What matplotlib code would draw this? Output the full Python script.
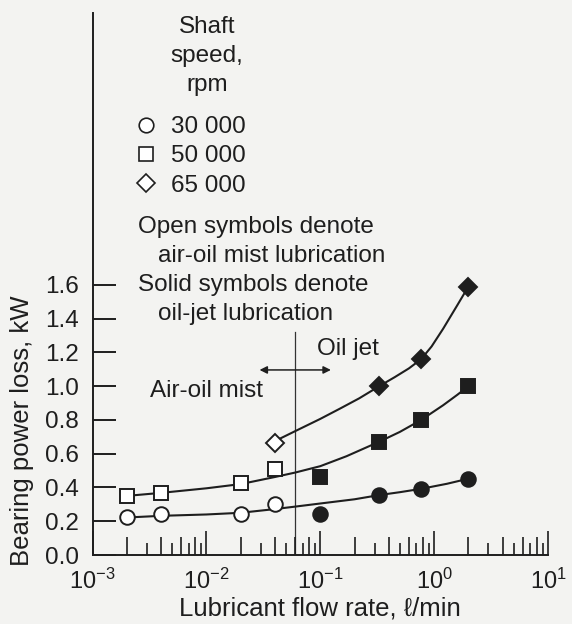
import numpy as np
import matplotlib
matplotlib.use("Agg")
import matplotlib.pyplot as plt
from matplotlib.lines import Line2D
from matplotlib.ticker import FixedLocator, NullFormatter

plt.rcParams['font.family'] = ['Liberation Sans', 'DejaVu Sans']
plt.rcParams['mathtext.fontset'] = 'custom'
plt.rcParams['mathtext.rm'] = 'Liberation Sans'
plt.rcParams['mathtext.it'] = 'Liberation Sans:italic'
plt.rcParams['mathtext.sf'] = 'Liberation Sans'

# --- data (flow in l/min, power loss in kW) ---
# open symbols: air-oil mist
mist_flow_30k = [0.002, 0.004, 0.02, 0.04]
mist_loss_30k = [0.225, 0.24, 0.24, 0.30]
mist_flow_50k = [0.002, 0.004, 0.02, 0.04]
mist_loss_50k = [0.35, 0.37, 0.425, 0.51]
mist_flow_65k = [0.04]
mist_loss_65k = [0.665]

# solid symbols: oil jet
jet_flow_30k = [0.1, 0.33, 0.77, 2.0]
jet_loss_30k = [0.245, 0.355, 0.39, 0.45]
jet_flow_50k = [0.1, 0.33, 0.77, 2.0]
jet_loss_50k = [0.46, 0.67, 0.80, 1.0]
jet_flow_65k = [0.33, 0.77, 2.0]
jet_loss_65k = [1.0, 1.16, 1.59]

# fitted curves
fit_flow_30k = [0.002, 0.004, 0.01, 0.02, 0.04, 0.07, 0.1, 0.2, 0.33, 0.5, 0.77, 1.3, 2.0]
fit_loss_30k = [0.222, 0.232, 0.24, 0.25, 0.272, 0.292, 0.305, 0.33, 0.355, 0.372, 0.392, 0.422, 0.452]
fit_flow_50k = [0.002, 0.004, 0.01, 0.02, 0.04, 0.06, 0.1, 0.17, 0.33, 0.5, 0.77, 1.2, 1.6, 2.0]
fit_loss_50k = [0.35, 0.368, 0.395, 0.42, 0.462, 0.488, 0.526, 0.585, 0.671, 0.729, 0.80, 0.887, 0.949, 1.0]
fit_flow_65k = [0.043, 0.06, 0.1, 0.15, 0.22, 0.33, 0.45, 0.6, 0.77, 0.95, 1.2, 1.6, 2.0]
fit_loss_65k = [0.685, 0.733, 0.806, 0.868, 0.928, 1.0, 1.053, 1.105, 1.16, 1.235, 1.34, 1.48, 1.59]

speeds = ['30 000', '50 000', '65 000']
markers = ['o', 's', 'D']
msizes = [10.5, 10.5, 9.0]

regime_split = 0.0595  # l/min, boundary between mist and jet
regime_top = 1.32

ink = '#1e1e1e'
bg = '#f3f3f1'
FS = 17.5

W, H = 572, 624


def fx(px):
    return px / W


def fy(py):
    return 1 - py / H


fig = plt.figure(figsize=(W / 100, H / 100), dpi=100, facecolor=bg)
ax = fig.add_axes([fx(92.5), fy(555), 455.5 / W, 542 / H])
ax.set_facecolor(bg)
ax.set_xscale('log')
ax.set_xlim(1e-3, 1e1)
ax.set_ylim(0, 3.21)

for s in ['top', 'right']:
    ax.spines[s].set_visible(False)
for s in ['left', 'bottom']:
    ax.spines[s].set_linewidth(1.4)
    ax.spines[s].set_color(ink)

# curves
for fxs, fys in [(fit_flow_30k, fit_loss_30k), (fit_flow_50k, fit_loss_50k),
                 (fit_flow_65k, fit_loss_65k)]:
    ax.plot(fxs, fys, color=ink, lw=1.5, zorder=2, solid_joinstyle='round')

# points
mist = [(mist_flow_30k, mist_loss_30k), (mist_flow_50k, mist_loss_50k),
        (mist_flow_65k, mist_loss_65k)]
jet = [(jet_flow_30k, jet_loss_30k), (jet_flow_50k, jet_loss_50k),
       (jet_flow_65k, jet_loss_65k)]
for (xs, ys), m, ms in zip(mist, markers, msizes):
    ax.plot(xs, ys, ls='none', marker=m, ms=ms, mfc='white', mec=ink, mew=1.4, zorder=3)
for (xs, ys), m, ms in zip(jet, markers, msizes):
    ax.plot(xs, ys, ls='none', marker=m, ms=ms, mfc=ink, mec=ink, mew=1.4, zorder=3)

# regime boundary and arrow
ax.plot([regime_split, regime_split], [0, regime_top], color='#333333', lw=0.9, zorder=1)
ax.annotate('', xy=(0.124, 1.096), xytext=(0.0293, 1.096),
            arrowprops=dict(arrowstyle='<|-|>', color=ink, lw=1.1,
                            mutation_scale=11, shrinkA=0, shrinkB=0))
ax.text(0.00321, 0.936, 'Air-oil mist', fontsize=FS, color=ink, va='baseline')
ax.text(0.0931, 1.182, 'Oil jet', fontsize=FS, color=ink, va='baseline')

# y axis
ax.set_yticks(np.arange(0, 1.61, 0.2))
ax.set_yticklabels([f'{v:.1f}' for v in np.arange(0, 1.61, 0.2)])
ax.tick_params(axis='y', direction='in', length=16.5, width=1.4, color=ink,
               labelsize=FS, labelcolor=ink, pad=10)
ax.set_ylabel('Bearing power loss, kW', fontsize=18.5, color=ink)
ax.yaxis.set_label_coords(-0.128, 0.23)

# x axis: decades, even minors, odd minors (shorter)
ax.xaxis.set_major_locator(FixedLocator([1e-3, 1e-2, 1e-1, 1e0, 1e1]))
even = [k * 10.0 ** e for e in range(-3, 1) for k in (2, 4, 6, 8)]
odd = [k * 10.0 ** e for e in range(-3, 1) for k in (3, 5, 7, 9)]
ax.xaxis.set_minor_locator(FixedLocator(even))
ax.xaxis.set_minor_formatter(NullFormatter())
ax.tick_params(axis='x', which='major', direction='in', length=17, width=1.2,
               color=ink, labelsize=17, labelcolor=ink, pad=10)
ax.tick_params(axis='x', which='minor', direction='in', length=13, width=1.2, color=ink)
sec = ax.secondary_xaxis('bottom')
sec.set_xticks(odd)
sec.xaxis.set_minor_locator(FixedLocator([]))
sec.tick_params(axis='x', which='major', direction='in', length=8.5, width=1.2,
                color=ink, labelbottom=False)
sec.spines['bottom'].set_visible(False)
ax.set_xlabel('Lubricant flow rate, \u2113/min', fontsize=18.5, color=ink)
ax.xaxis.set_label_coords(0.5, -0.076)

# legend
handles = [Line2D([], [], ls='none', marker=m, ms=ms, mfc='white', mec=ink, mew=1.2)
           for m, ms in zip(markers, msizes)]
leg = fig.legend(handles, speeds, loc='upper left',
                 bbox_to_anchor=(fx(139), fy(116)), frameon=False, fontsize=FS,
                 handlelength=0.55, handletextpad=0.75, labelspacing=0.3,
                 borderpad=0, borderaxespad=0)
for t in leg.get_texts():
    t.set_color(ink)

for line, yb in zip(['Shaft', 'speed,', 'rpm'], [33, 62, 91]):
    fig.text(fx(207), fy(yb), line, fontsize=FS, color=ink, ha='center', va='baseline')

notes = [('Open symbols denote', 138, 233), ('air-oil mist lubrication', 158, 262),
         ('Solid symbols denote', 138, 291), ('oil-jet lubrication', 158, 320)]
for txt, xl, yb in notes:
    fig.text(fx(xl), fy(yb), txt, fontsize=FS, color=ink, ha='left', va='baseline')

fig.savefig('out.png', dpi=100, facecolor=bg)
